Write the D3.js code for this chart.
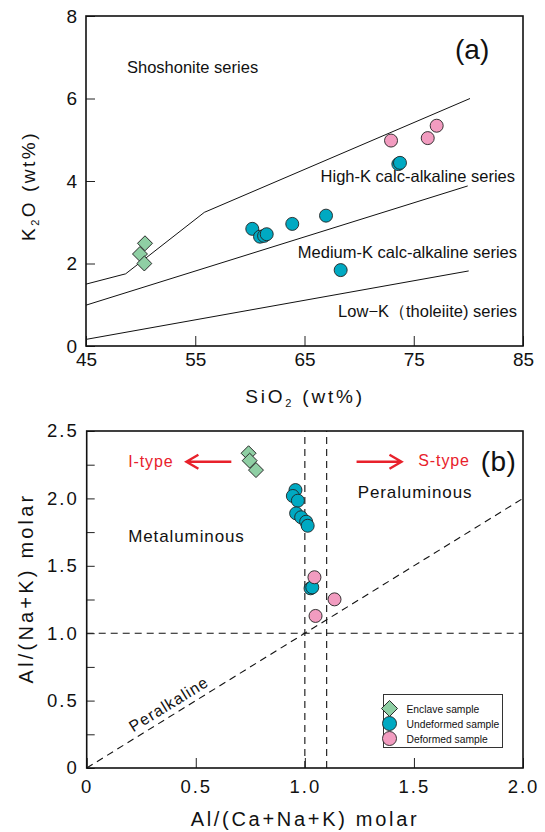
<!DOCTYPE html>
<html>
<head>
<meta charset="utf-8">
<script src="https://cdn.jsdelivr.net/npm/d3@7"></script>
<style>
  body { margin: 0; background: #fff; }
  svg { display: block; font-family: "Liberation Sans", Arial, Helvetica, sans-serif; }
</style>
</head>
<body>
<script>
// ---------- Panel (a): K2O vs SiO2 ----------
const aXTicks = [45, 55, 65, 75, 85];
const aYTicks = [0, 2, 4, 6, 8];
const aEnclaveSiO2 = [50.40, 49.94, 50.34];
const aEnclaveK2O  = [2.49, 2.23, 2.00];
const aUndeformedSiO2 = [60.22, 60.93, 61.30, 61.54, 63.88, 66.97, 68.31, 73.59, 73.74];
const aUndeformedK2O  = [2.84, 2.65, 2.67, 2.71, 2.96, 3.16, 1.84, 4.41, 4.44];
const aDeformedSiO2 = [72.92, 76.28, 77.10];
const aDeformedK2O  = [4.98, 5.04, 5.34];
const aLineShoshonite = [[45, 1.50], [48.63, 1.75], [55.83, 3.24], [80.15, 6.00]];
const aLineHighK      = [[45, 0.99], [79.94, 3.88]];
const aLineLowK       = [[45, 0.16], [80.03, 1.82]];
const aSeriesNames = ["Shoshonite series", "High-K calc-alkaline series",
                      "Medium-K calc-alkaline series", "Low\u2212K\uFF08tholeiite) series"];

// ---------- Panel (b): A/NK vs A/CNK ----------
const bXTicks = [0, 0.5, 1.0, 1.5, 2.0];
const bYTicks = [0, 0.25, 0.5, 0.75, 1.0, 1.25, 1.5, 1.75, 2.0, 2.25, 2.5];
const bEnclaveACNK = [0.742, 0.747, 0.776];
const bEnclaveANK  = [2.335, 2.28, 2.21];
const bUndeformedACNK = [0.957, 0.945, 0.968, 0.960, 0.983, 1.006, 1.013, 1.026, 1.034];
const bUndeformedANK  = [2.062, 2.018, 1.983, 1.889, 1.860, 1.827, 1.797, 1.333, 1.340];
const bDeformedACNK = [1.044, 1.136, 1.049];
const bDeformedANK  = [1.415, 1.251, 1.128];
const bRefLines = [[[0, 1], [2, 1]], [[1.0, 0], [1.0, 2.5]], [[1.1, 0], [1.1, 2.5]], [[0, 0], [2, 2]]];
const bRegionNames = ["Metaluminous", "Peraluminous", "Peralkaline", "I-type", "S-type"];

const legendNames = ["Enclave sample", "Undeformed sample", "Deformed sample"];
const colors = { enclave: "#8fcfa4", undeformed: "#00a9c2", deformed: "#f29cc0" };

// ---------- drawing ----------
const W = 545, H = 832;
const svg = d3.select("body").append("svg").attr("width", W).attr("height", H);
svg.append("rect").attr("width", W).attr("height", H).attr("fill", "#fff");

const diamond = d3.symbol().type(d3.symbolSquare).size(112);
const diamondLegend = d3.symbol().type(d3.symbolSquare).size(128);

function styleAxis(g, fs, ls) {
  g.select(".domain").remove();
  g.selectAll(".tick line").attr("stroke", "#222").attr("stroke-width", 1);
  g.selectAll(".tick text").attr("fill", "#111").style("font-size", fs + "px")
    .style("letter-spacing", ls + "px").attr("font-family", null);
}

function drawPoints(g, x, y, xs, ys, kind) {
  if (kind === "enclave") {
    g.selectAll(null).data(xs).enter().append("path")
      .attr("d", diamond)
      .attr("transform", (d, i) => `translate(${x(d)},${y(ys[i])}) rotate(45)`)
      .attr("fill", colors.enclave).attr("stroke", "#222").attr("stroke-width", 0.9);
  } else {
    g.selectAll(null).data(xs).enter().append("circle")
      .attr("cx", d => x(d)).attr("cy", (d, i) => y(ys[i])).attr("r", 6.5)
      .attr("fill", colors[kind]).attr("stroke", "#222").attr("stroke-width", 0.9);
  }
}

// ----- Panel (a)
{
  const x = d3.scaleLinear().domain([45, 85]).range([86, 523]);
  const y = d3.scaleLinear().domain([0, 8]).range([346, 16]);
  const g = svg.append("g");

  const line = d3.line().x(d => x(d[0])).y(d => y(d[1]));
  [aLineShoshonite, aLineHighK, aLineLowK].forEach(l => {
    g.append("path").attr("d", line(l)).attr("fill", "none").attr("stroke", "#111").attr("stroke-width", 1);
  });

  g.append("g").attr("transform", `translate(0,${y(0)})`)
    .call(d3.axisBottom(x).tickValues(aXTicks).tickSize(-10).tickPadding(7).tickFormat(d3.format("d")))
    .call(a => styleAxis(a, 19, 0));
  g.append("g").attr("transform", `translate(${x(45)},0)`)
    .call(d3.axisLeft(y).tickValues(aYTicks).tickSize(-9).tickPadding(9).tickFormat(d3.format("d")))
    .call(a => styleAxis(a, 19, 0));

  g.append("rect").attr("x", x(45)).attr("y", y(8)).attr("width", x(85) - x(45)).attr("height", y(0) - y(8))
    .attr("fill", "none").attr("stroke", "#111").attr("stroke-width", 1.6);

  const lab = (t, xv, yv, anchor, fs) => g.append("text").attr("x", x(xv)).attr("y", y(yv))
    .attr("text-anchor", anchor).style("font-size", fs + "px").attr("fill", "#111").text(t);
  lab(aSeriesNames[0], 48.75, 6.62, "start", 16.5);
  lab(aSeriesNames[1], 84.27, 3.98, "end", 16.5);
  lab(aSeriesNames[2], 84.45, 2.13, "end", 16.5);
  lab(aSeriesNames[3], 84.45, 0.71, "end", 16.5);
  lab("(a)", 78.78, 6.96, "start", 28);

  drawPoints(g, x, y, aEnclaveSiO2, aEnclaveK2O, "enclave");
  drawPoints(g, x, y, aUndeformedSiO2, aUndeformedK2O, "undeformed");
  drawPoints(g, x, y, aDeformedSiO2, aDeformedK2O, "deformed");

  // axis titles
  const xt = g.append("text").attr("x", 305).attr("y", 403).attr("text-anchor", "middle")
    .style("font-size", "19px").style("letter-spacing", "2.8px").attr("fill", "#111");
  xt.append("tspan").text("SiO");
  xt.append("tspan").attr("dy", 4).style("font-size", "11px").text("2");
  xt.append("tspan").attr("dy", -4).text(" (wt%)");

  const yt = g.append("text").attr("transform", "translate(35,186) rotate(-90)").attr("text-anchor", "middle")
    .style("font-size", "19px").style("letter-spacing", "2.5px").attr("fill", "#111");
  yt.append("tspan").text("K");
  yt.append("tspan").attr("dy", 4).style("font-size", "11px").text("2");
  yt.append("tspan").attr("dy", -4).text("O (wt%)");
}

// ----- Panel (b)
{
  const x = d3.scaleLinear().domain([0, 2]).range([86.7, 523]);
  const y = d3.scaleLinear().domain([0, 2.5]).range([768, 431]);
  const g = svg.append("g");
  const fmt = d => d === 0 ? "0" : (Math.abs(d * 2 - Math.round(d * 2)) < 1e-9 ? d3.format(".1f")(d) : "");

  const line = d3.line().x(d => x(d[0])).y(d => y(d[1]));
  bRefLines.forEach(l => {
    g.append("path").attr("d", line(l)).attr("fill", "none").attr("stroke", "#111")
      .attr("stroke-width", 1.1).attr("stroke-dasharray", "7,5");
  });

  g.append("g").attr("transform", `translate(0,${y(0)})`)
    .call(d3.axisBottom(x).tickValues(bXTicks).tickSize(-10).tickPadding(12).tickFormat(fmt))
    .call(a => styleAxis(a, 18.5, 2));
  g.append("g").attr("transform", `translate(${x(0)},0)`)
    .call(d3.axisLeft(y).tickValues(bYTicks).tickSize(-8).tickPadding(8).tickFormat(fmt))
    .call(a => styleAxis(a, 18.5, 2));

  g.append("rect").attr("x", x(0)).attr("y", y(2.5)).attr("width", x(2) - x(0)).attr("height", y(0) - y(2.5))
    .attr("fill", "none").attr("stroke", "#111").attr("stroke-width", 1.6);

  const lab = (t, xv, yv, fs, col, ls) => g.append("text").attr("x", x(xv)).attr("y", y(yv))
    .style("font-size", fs + "px").style("letter-spacing", (ls || 0) + "px").attr("fill", col || "#111").text(t);
  lab(bRegionNames[0], 0.19, 1.679, 17, "#111", 0.9);
  lab(bRegionNames[1], 1.242, 2.0, 17, "#111", 0.9);
  lab(bRegionNames[3], 0.19, 2.235, 16, "#e8212b", 0.9);
  lab(bRegionNames[4], 1.52, 2.24, 16, "#e8212b", 0.9);
  lab("(b)", 1.806, 2.206, 28, "#111", 0.5);

  const ang = Math.atan2(y(0) - y(2), x(2) - x(0)) * 180 / Math.PI;
  g.append("text").attr("transform", `translate(${x(0.376)},${y(0.475)}) rotate(${-ang})`)
    .attr("text-anchor", "middle").attr("dy", "0.35em").style("font-size", "16px").style("letter-spacing", "1px")
    .attr("fill", "#111").text(bRegionNames[2]);

  // arrows
  const arrow = (x0, x1, yv) => {
    const X0 = x(x0), X1 = x(x1), Y = y(yv), dir = Math.sign(X1 - X0);
    g.append("path").attr("d", `M${X0},${Y}L${X1},${Y}M${X1 - dir * 12},${Y - 7}L${X1},${Y}L${X1 - dir * 12},${Y + 7}`)
      .attr("fill", "none").attr("stroke", "#e8212b").attr("stroke-width", 2.4);
  };
  arrow(0.663, 0.457, 2.272);
  arrow(1.237, 1.443, 2.272);

  drawPoints(g, x, y, bEnclaveACNK, bEnclaveANK, "enclave");
  drawPoints(g, x, y, bUndeformedACNK, bUndeformedANK, "undeformed");
  drawPoints(g, x, y, bDeformedACNK, bDeformedANK, "deformed");

  // legend
  const lg = g.append("g");
  lg.append("rect").attr("x", 383.5).attr("y", 694.5).attr("width", 119).attr("height", 53)
    .attr("fill", "#fff").attr("stroke", "#333").attr("stroke-width", 1);
  const kinds = ["enclave", "undeformed", "deformed"];
  kinds.forEach((k, i) => {
    const cy = 708.5 + i * 15;
    if (k === "enclave") {
      lg.append("path").attr("d", diamondLegend).attr("transform", `translate(389.5,${cy}) rotate(45)`)
        .attr("fill", colors.enclave).attr("stroke", "#222").attr("stroke-width", 0.9);
    } else {
      lg.append("circle").attr("cx", 389.5).attr("cy", cy).attr("r", 7)
        .attr("fill", colors[k]).attr("stroke", "#222").attr("stroke-width", 0.9);
    }
    lg.append("text").attr("x", 406.5).attr("y", cy + 4).style("font-size", "10.3px").attr("fill", "#111")
      .text(legendNames[i]);
  });

  // axis titles
  g.append("text").attr("x", 305).attr("y", 826).attr("text-anchor", "middle")
    .style("font-size", "20px").style("letter-spacing", "2.7px").attr("fill", "#111").text("Al/(Ca+Na+K) molar");
  g.append("text").attr("transform", "translate(33,588) rotate(-90)").attr("text-anchor", "middle")
    .style("font-size", "20px").style("letter-spacing", "3.2px").attr("fill", "#111").text("Al/(Na+K) molar");
}
</script>
</body>
</html>
